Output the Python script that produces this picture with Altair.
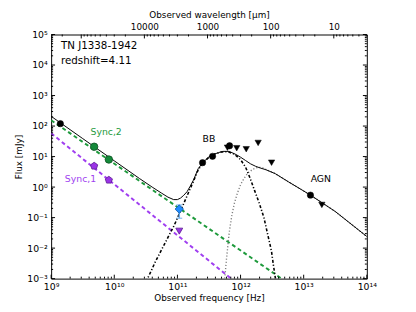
import altair as alt
import pandas as pd

FONT = "DejaVu Sans"
C_UM = 2.998e14  # speed of light in micron/s, for the top wavelength axis

# ---------------- observed points ----------------
blk_circ_nu = [1.4e9, 2.5e11, 3.6e11, 6.7e11, 1.28e13]
blk_circ_f = [120, 6.3, 10.2, 22.6, 0.545]
blk_tri_nu = [6.2e11, 8.7e11, 1.23e12, 1.9e12, 3.1e12, 1.94e13]
blk_tri_f = [19.5, 18.8, 17.4, 28.0, 6.3, 0.26]
grn_nu = [4.8e9, 8.2e9]
grn_f = [21.0, 8.0]
pur_nu = [4.8e9, 8.2e9]
pur_f = [4.9, 1.7]
blue_nu = [1.07e11]
blue_f = [0.19]
blue_lo = [0.095]
blue_hi = [0.26]
pur_tri_nu = [1.07e11]
pur_tri_f = [0.036]

# ---------------- model curves (log10 nu, log10 flux) ----------------
sync2_lognu = [9.0, 12.65]
sync2_logf = [2.19, -3.0]
sync1_lognu = [9.0, 11.85]
sync1_logf = [1.763, -3.0]
bb_lognu = [10.50, 10.55, 10.65, 10.75, 10.85, 10.95, 11.05, 11.15, 11.25, 11.33, 11.41,
            11.5, 11.6, 11.7, 11.8, 11.9, 12.0, 12.08, 12.15, 12.22, 12.3, 12.37,
            12.43, 12.49, 12.52, 12.56]
bb_logf = [-3.1, -2.9, -2.45, -2.05, -1.65, -1.25, -0.78, -0.3, 0.17, 0.57, 0.8,
           0.98, 1.09, 1.15, 1.16, 1.08, 0.9, 0.65, 0.3, -0.1, -0.55, -1.0,
           -1.55, -2.1, -2.55, -3.1]
agn_lognu = [11.745, 11.78, 11.82, 11.86, 11.9, 11.95, 12.0, 12.06, 12.12, 12.2, 12.28,
             12.35, 12.42, 12.55, 12.76, 12.97, 13.12, 13.5, 14.0]
agn_logf = [-3.1, -2.3, -1.5, -0.95, -0.55, -0.2, 0.08, 0.3, 0.47, 0.59, 0.65,
            0.63, 0.56, 0.44, 0.17, -0.09, -0.28, -0.8, -1.62]
tot_lognu = [9.0, 9.5, 10.0, 10.4, 10.6, 10.75, 10.85, 10.94, 11.0, 11.05, 11.1, 11.154,
             11.2, 11.254, 11.33, 11.41, 11.5, 11.565, 11.65, 11.72, 11.82, 11.93, 12.0,
             12.08, 12.16, 12.24, 12.32, 12.4, 12.55, 12.76, 12.97, 13.12, 13.5, 14.0]
tot_logf = [2.32, 1.59, 0.86, 0.28, 0.0, -0.2, -0.33, -0.41, -0.41, -0.36, -0.27, -0.148,
            0.02, 0.228, 0.605, 0.82, 0.99, 1.065, 1.13, 1.17, 1.17, 1.065, 0.98,
            0.87, 0.76, 0.68, 0.62, 0.57, 0.44, 0.17, -0.09, -0.28, -0.8, -1.62]

# ---------------- annotations ----------------
ann_text = ["TN J1338-1942", "redshift=4.11", "Sync,2", "Sync,1", "BB", "AGN"]
ann_nu = [1.43e9, 1.43e9, 4.2e9, 1.65e9, 2.5e11, 1.29e13]
ann_f = [4.3e4, 1.3e4, 64, 1.8, 38, 1.8]
ann_color = ["black", "black", "#1e9a3c", "#a03ff0", "black", "black"]
ann_size = [10.5, 10.5, 9.5, 9.5, 9.5, 9.5]

# ---------------- ticks ----------------
x_major = [1e9, 1e10, 1e11, 1e12, 1e13, 1e14]
x_tick_labels = ["10⁹", "10¹⁰", "10¹¹", "10¹²", "10¹³", "10¹⁴"]
y_major = [1e-3, 1e-2, 1e-1, 1e0, 1e1, 1e2, 1e3, 1e4, 1e5]
y_tick_labels = ["10⁻³", "10⁻²", "10⁻¹", "10⁰", "10¹", "10²", "10³", "10⁴", "10⁵"]
lam_major = [10000, 1000, 100, 10]
lam_tick_labels = ["10000", "1000", "100", "10"]
mantissas = [2, 3, 4, 5, 6, 7, 8, 9]

x_minor = [m * d for d in x_major[:-1] for m in mantissas]
y_minor = [m * d for d in y_major[:-1] for m in mantissas]
lam_decades = [1, 10, 100, 1000, 10000, 100000]
lam_minor = [m * d for d in lam_decades for m in mantissas if 3 <= m * d <= 299800]
lam_major_all = [d for d in lam_decades if 3 <= d <= 299800]

W, H = 322, 249

xs = alt.Scale(type="log", domain=[1e9, 1e14])
ys = alt.Scale(type="log", domain=[1e-3, 1e5])

x_axis = alt.Axis(
    values=x_major,
    labelExpr=f"{x_tick_labels}[round(log(datum.value)/LN10) - 9]",
    ticks=False, domain=False, grid=False, labelFlush=False, labelOverlap=False,
    labelFontSize=9.5, labelPadding=3, labelColor="black",
    titleFontSize=9, titleFontWeight="normal", titlePadding=3, titleColor="black",
)
y_axis = alt.Axis(
    values=y_major,
    labelExpr=f"{y_tick_labels}[round(log(datum.value)/LN10) + 3]",
    ticks=False, domain=False, grid=False, labelFlush=False, labelOverlap=False,
    labelFontSize=9.5, labelPadding=4, labelColor="black",
    titleFontSize=9, titleFontWeight="normal", titlePadding=3, titleColor="black",
)
X = alt.X("nu:Q", scale=xs, axis=x_axis, title="Observed frequency [Hz]")
Y = alt.Y("f:Q", scale=ys, axis=y_axis, title="Flux [mJy]")


def curve_df(lognu, logf):
    return pd.DataFrame({"nu": [10 ** v for v in lognu], "f": [10 ** v for v in logf]})


def line(df, color, width, dash=None):
    kw = dict(clip=True, color=color, strokeWidth=width)
    if dash:
        kw["strokeDash"] = dash
    return alt.Chart(df).mark_line(**kw).encode(x=X, y=Y)


def pts(nu, f, **kw):
    return alt.Chart(pd.DataFrame({"nu": nu, "f": f})).mark_point(filled=True, opacity=1, **kw).encode(x=X, y=Y)


sync2 = line(curve_df(sync2_lognu, sync2_logf), "#1e9a3c", 2, [4, 3])
sync1 = line(curve_df(sync1_lognu, sync1_logf), "#a03ff0", 2, [4, 3])
bb = line(curve_df(bb_lognu, bb_logf), "black", 1.6, [3, 2, 1.2, 2])
agn = line(curve_df(agn_lognu, agn_logf), "#808080", 1.4, [1.2, 2])
tot = line(curve_df(tot_lognu, tot_logf), "black", 1)

err = pd.DataFrame({"nu": blue_nu, "lo": blue_lo, "hi": blue_hi})
err_rule = alt.Chart(err).mark_rule(color="#6aaceb", strokeWidth=1.6).encode(
    x=X, y=alt.Y("lo:Q", scale=ys, axis=y_axis, title="Flux [mJy]"), y2="hi:Q")
err_caps = alt.layer(
    alt.Chart(err).mark_tick(orient="horizontal", color="#6aaceb", size=6, thickness=1.4).encode(
        x=X, y=alt.Y("lo:Q", scale=ys, axis=y_axis, title="Flux [mJy]")),
    alt.Chart(err).mark_tick(orient="horizontal", color="#6aaceb", size=6, thickness=1.4).encode(
        x=X, y=alt.Y("hi:Q", scale=ys, axis=y_axis, title="Flux [mJy]")),
)

pentagon = "M0,-1L0.951,-0.309L0.588,0.809L-0.588,0.809L-0.951,-0.309Z"

p_blk = pts(blk_circ_nu, blk_circ_f, shape="circle", size=42, fill="black", stroke="black", strokeWidth=0.5)
p_tri = pts(blk_tri_nu, blk_tri_f, shape="triangle-down", size=42, fill="black", stroke="black", strokeWidth=0.5)
p_grn = pts(grn_nu, grn_f, shape="circle", size=58, fill="#14893a", stroke="#0b5020", strokeWidth=0.8)
p_pur = pts(pur_nu, pur_f, shape=pentagon, size=60, fill="#9a33e6", stroke="#5a1a90", strokeWidth=0.8)
p_blue = pts(blue_nu, blue_f, shape="diamond", size=75, fill="#1e8cff", stroke="#0a55a8", strokeWidth=0.8)
p_ptri = pts(pur_tri_nu, pur_tri_f, shape="triangle-down", size=50, fill="#9a33e6", stroke="#5a1a90", strokeWidth=0.8)

ann = pd.DataFrame({"nu": ann_nu, "f": ann_f, "t": ann_text, "c": ann_color, "s": ann_size})
texts = alt.Chart(ann).mark_text(align="left", baseline="middle", font=FONT).encode(
    x=X, y=Y, text="t:N",
    color=alt.Color("c:N", scale=None),
    size=alt.Size("s:Q", scale=None),
)

# inward ticks: bottom, left, right
xt_major = pd.DataFrame({"nu": x_major})
xt_minor = pd.DataFrame({"nu": x_minor})
yt_major = pd.DataFrame({"f": y_major})
yt_minor = pd.DataFrame({"f": y_minor})
tick_layers = [
    alt.Chart(xt_major).mark_rule(color="black").encode(x=X, y=alt.value(H), y2=alt.value(H - 4)),
    alt.Chart(xt_minor).mark_rule(color="black").encode(x=X, y=alt.value(H), y2=alt.value(H - 2)),
    alt.Chart(yt_major).mark_rule(color="black").encode(y=Y, x=alt.value(0), x2=alt.value(4)),
    alt.Chart(yt_minor).mark_rule(color="black").encode(y=Y, x=alt.value(0), x2=alt.value(2)),
    alt.Chart(yt_major).mark_rule(color="black").encode(y=Y, x=alt.value(W), x2=alt.value(W - 4)),
    alt.Chart(yt_minor).mark_rule(color="black").encode(y=Y, x=alt.value(W), x2=alt.value(W - 2)),
]

freq = alt.layer(
    sync2, sync1, agn, bb, tot,
    err_rule, err_caps,
    p_grn, p_pur, p_blk, p_tri, p_ptri, p_blue,
    texts,
    *tick_layers,
)

# top wavelength axis
ws = alt.Scale(type="log", domain=[C_UM / 1e14, C_UM / 1e9], reverse=True)
w_axis = alt.Axis(
    orient="top", values=lam_major,
    labelExpr=f"{lam_tick_labels}[indexof({lam_major}, round(datum.value))]",
    ticks=False, domain=False, grid=False, labelFlush=False, labelOverlap=False,
    labelFontSize=9, labelPadding=3, labelColor="black",
    titleFontSize=9, titleFontWeight="normal", titlePadding=3, titleColor="black",
)
WX = alt.X("lam:Q", scale=ws, axis=w_axis, title="Observed wavelength [μm]")
wave = alt.layer(
    alt.Chart(pd.DataFrame({"lam": lam_major_all})).mark_rule(color="black").encode(x=WX, y=alt.value(0), y2=alt.value(4)),
    alt.Chart(pd.DataFrame({"lam": lam_minor})).mark_rule(color="black").encode(x=WX, y=alt.value(0), y2=alt.value(2)),
)

chart = alt.layer(freq, wave).resolve_scale(x="independent").properties(
    width=W, height=H,
    autosize=alt.AutoSizeParams(type="none"),
    padding={"left": 44, "top": 24, "right": 42, "bottom": 31},
).configure_view(stroke="black", strokeWidth=1).configure_axis(
    labelFont=FONT, titleFont=FONT
).configure_text(font=FONT)

chart.save("out.html", embed_options={"renderer": "svg", "actions": False})
